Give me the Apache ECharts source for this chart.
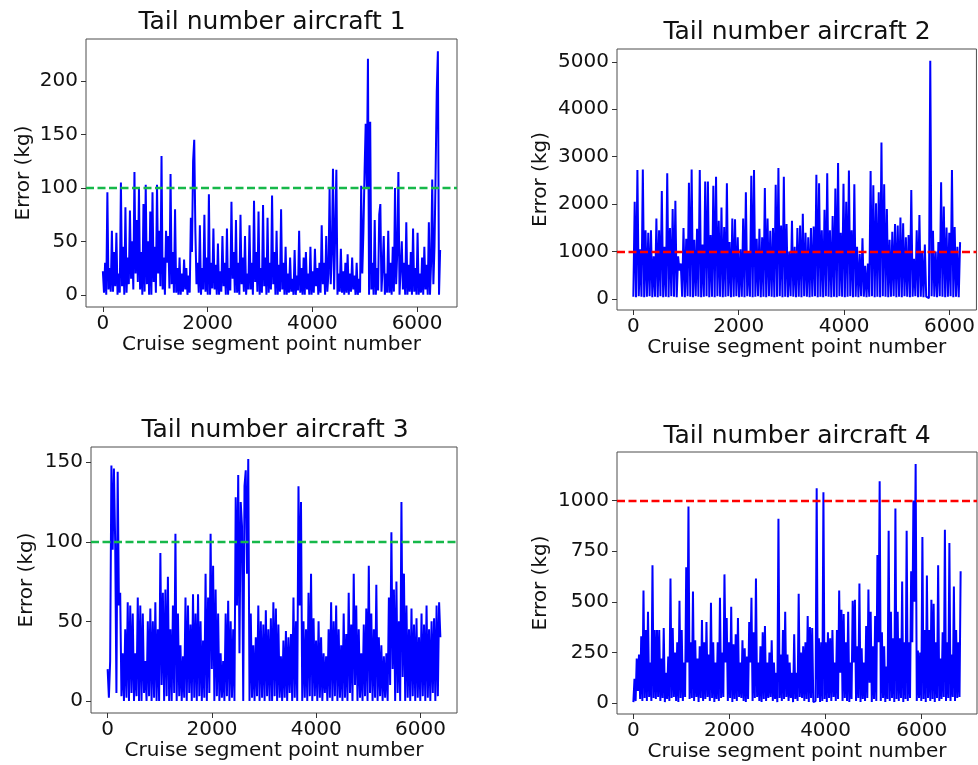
<!DOCTYPE html>
<html>
<head>
<meta charset="utf-8">
<script src="https://cdn.jsdelivr.net/npm/echarts@6/dist/echarts.min.js"></script>
<style>
  html, body { margin: 0; padding: 0; background: #ffffff; }
  #chart { width: 978px; height: 765px; }
</style>
</head>
<body>
<div id="chart"></div>
<script>
// ---- data -------------------------------------------------------------
const panelTitles = ['Tail number aircraft 1', 'Tail number aircraft 2',
                     'Tail number aircraft 3', 'Tail number aircraft 4'];
const xAxisName = 'Cruise segment point number';
const yAxisName = 'Error (kg)';

const xTickValues = [0, 2000, 4000, 6000];
const yTicks1 = [0, 50, 100, 150, 200];
const yTicks2 = [0, 1000, 2000, 3000, 4000, 5000];
const yTicks3 = [0, 50, 100, 150];
const yTicks4 = [0, 250, 500, 750, 1000];

// last cruise segment point number of each aircraft (samples are evenly spaced)
const lastPoint1 = 6440;
const lastPoint2 = 6200;
const lastPoint3 = 6380;
const lastPoint4 = 6810;

// error thresholds drawn as dashed reference lines
const threshold1 = 100;
const threshold2 = 1000;
const threshold3 = 100;
const threshold4 = 1000;

// prediction error (kg) along the cruise segment
const error1 = [22,2,30,0,96,5,25,3,60,3,
  40,8,58,0,20,2,105,8,45,0,
  82,2,35,10,79,15,50,5,115,20,
  70,12,100,5,40,0,85,3,
  103,10,50,0,78,0,96,12,
  45,2,103,20,60,8,130,5,35,0,
  60,30,55,6,113,10,40,2,80,2,
  25,0,35,0,20,3,33,5,
  25,0,18,2,72,40,125,145,60,10,
  30,2,65,0,25,5,75,3,35,0,
  94,0,30,6,62,5,28,0,48,0,
  22,3,55,8,30,0,62,0,25,4,
  87,15,40,2,70,2,30,0,75,10,
  35,3,55,0,20,5,65,5,30,0,
  88,12,40,3,78,0,25,2,84,8,
  35,0,72,2,30,5,93,10,40,0,
  60,0,28,3,80,5,30,0,45,0,
  20,2,35,3,15,0,42,0,18,4,
  60,2,25,0,35,0,40,5,
  20,0,45,0,22,2,43,8,25,0,
  30,2,65,10,30,0,55,3,
  20,100,10,40,118,5,60,117,0,20,3,
  43,2,22,0,30,2,38,0,20,3,35,5,
  18,0,30,0,15,2,102,20,60,115,
  160,100,221,0,162,5,30,0,70,0,
  25,4,75,85,3,25,55,0,20,2,
  60,2,30,0,45,3,100,10,40,115,0,25,
  50,5,30,0,68,0,28,3,40,0,62,3,
  25,0,58,0,20,2,35,0,45,5,28,0,
  68,0,30,108,10,45,115,190,228,0,
  42];

const error2 = [50,2050,40,2720,60,1050,50,2730,40,1450,50,1400,60,1450,40,900,50,1700,40,1450,
  60,2280,40,1100,50,2650,40,1500,60,1900,50,2070,40,900,600,750,50,1500,40,1270,
  60,2450,50,2730,40,1250,60,1480,50,2720,40,1150,50,2480,60,2480,40,1350,50,2390,
  40,2580,60,1650,50,1930,40,1520,50,2440,60,1200,40,1700,50,1680,60,1300,40,1050,
  50,1700,40,2250,60,1000,50,2600,40,2720,50,1270,60,1480,40,1300,50,2340,40,1700,
  60,1440,50,1500,40,2410,50,2760,60,1550,40,2580,50,1580,40,1000,60,1650,50,1100,
  40,1500,50,1550,40,1800,60,1400,50,1300,40,1500,50,1530,60,2620,40,2440,50,1450,
  40,1880,60,2650,50,1450,40,1750,50,2330,40,2870,60,1400,50,2430,40,2050,50,2710,
  60,1450,40,2420,50,1100,40,950,60,1280,50,700,40,750,50,2700,60,2400,40,2020,
  50,2250,40,3300,60,2420,50,1900,40,1250,50,1420,60,1580,40,1550,50,1720,40,1600,
  60,1300,50,1350,40,2300,50,850,60,1450,40,1770,50,1000,40,1150,50,60,20,5020,
  60,1440,50,1000,40,1200,60,2460,50,1950,40,1510,50,1400,60,2720,40,1520,50,1100,
  40,1200];

const error3 = [20,2,25,148,95,146,100,5,144,60,68,3,30,0,45,2,62,0,60,5,
  55,0,30,3,65,0,60,0,55,5,25,0,50,3,58,0,50,2,62,0,
  45,0,93,10,68,0,70,3,78,0,45,0,60,5,105,0,55,3,35,0,
  28,2,65,0,60,5,48,0,67,2,55,0,67,3,50,0,38,2,80,0,
  65,5,105,20,85,0,70,3,55,0,30,2,25,0,55,3,63,0,50,2,
  45,0,128,60,142,30,125,110,0,135,145,80,152,
  0,55,2,35,0,40,3,60,0,50,2,48,0,57,3,45,0,52,0,62,
  3,58,0,48,2,28,0,38,2,44,0,40,5,42,0,65,2,50,0,
  135,60,125,0,50,2,45,0,68,3,80,0,52,3,38,0,50,2,40,0,
  30,5,28,0,45,2,62,0,50,3,60,0,45,2,35,0,55,2,42,0,
  68,5,48,0,80,10,60,0,45,2,30,0,48,3,58,0,85,5,55,0,
  45,2,73,0,40,3,35,0,28,2,30,0,65,10,106,20,70,0,75,5,
  50,0,125,15,80,0,60,2,45,0,58,3,48,0,52,2,40,0,55,3,
  48,0,60,2,45,0,50,5,52,0,60,3,62,40];

const error4 = [5,120,10,220,60,240,20,330,10,555,25,360,10,450,30,200,10,680,25,360,
  20,360,30,360,10,220,25,370,5,150,20,230,10,615,25,370,30,250,10,300,
  5,505,25,360,10,200,30,670,200,970,20,300,25,550,10,310,30,220,5,280,
  25,410,10,300,20,400,30,240,10,495,25,300,5,200,20,300,10,520,25,250,
  30,635,200,420,10,300,25,475,5,290,20,340,10,420,30,200,25,310,10,270,
  5,230,20,400,200,520,10,350,25,615,30,200,10,280,5,350,20,380,10,200,
  25,250,30,310,10,200,20,150,5,910,25,240,10,360,20,450,30,240,10,200,
  25,150,5,340,20,150,10,540,30,250,25,280,10,300,20,430,5,375,25,370,
  5,10,10,1060,25,320,5,300,10,1040,20,300,5,350,25,320,10,360,30,200,
  10,360,20,555,150,460,10,440,25,300,10,450,5,200,20,505,200,510,10,280,
  25,590,5,270,20,200,10,380,25,560,100,450,5,280,20,430,10,730,300,1095,
  10,350,25,280,5,180,20,850,10,450,25,320,5,960,20,450,10,320,25,600,
  5,300,20,850,10,300,25,650,300,1000,500,1180,10,260,25,250,10,820,20,360,
  5,630,25,360,10,510,20,490,5,300,25,680,10,220,20,350,30,855,10,300,
  25,790,10,240,30,575,10,360,25,300,30,650];

// ---- layout & styling ---------------------------------------------------
const FONT = '"DejaVu Sans", sans-serif';
const TEXT_COLOR = '#111111';
const LINE_COLOR = '#0000ff';

const panels = [
  { values: error1, last: lastPoint1, yTicks: yTicks1, threshold: threshold1, thresholdColor: '#16b84a',
    grid: { left: 86, top: 39, width: 371, height: 268 }, title: [272, 22], xGap: 27, yGap: 52 },
  { values: error2, last: lastPoint2, yTicks: yTicks2, threshold: threshold2, thresholdColor: '#ff0000',
    grid: { left: 617, top: 49, width: 360, height: 261 }, title: [797, 32], xGap: 26, yGap: 66 },
  { values: error3, last: lastPoint3, yTicks: yTicks3, threshold: threshold3, thresholdColor: '#16b84a',
    grid: { left: 91, top: 447, width: 366, height: 266 }, title: [275, 430], xGap: 26, yGap: 54 },
  { values: error4, last: lastPoint4, yTicks: yTicks4, threshold: threshold4, thresholdColor: '#ff0000',
    grid: { left: 617, top: 452, width: 360, height: 262 }, title: [797, 436], xGap: 26, yGap: 66 }
];

// evenly spaced point numbers from 0 to the last point
function toSeriesData(values, last) {
  const step = last / (values.length - 1);
  return values.map((v, i) => [i * step, v]);
}

// 5 % padding around the data extent on both axes
function padded(lo, hi) {
  const pad = (hi - lo) * 0.05;
  return [lo - pad, hi + pad];
}

const plainNumber = (v) => String(Math.round(v));

const option = {
  animation: false,
  backgroundColor: '#ffffff',
  grid: [], xAxis: [], yAxis: [], series: [], graphic: []
};

panels.forEach((p, k) => {
  option.grid.push(Object.assign({
    show: true, borderColor: '#4d4d4d', borderWidth: 1, backgroundColor: 'transparent',
    containLabel: false
  }, p.grid));

  const xr = padded(0, p.last);
  const yr = padded(Math.min(...p.values), Math.max(...p.values));

  option.xAxis.push({
    type: 'value', gridIndex: k, min: xr[0], max: xr[1],
    name: xAxisName, nameLocation: 'middle', nameGap: p.xGap,
    nameTextStyle: { fontFamily: FONT, fontSize: 20, color: TEXT_COLOR },
    axisLine: { show: false, onZero: false },
    splitLine: { show: false },
    axisTick: { show: true, inside: false, length: 5, customValues: xTickValues,
                lineStyle: { color: '#333333', width: 1 } },
    axisLabel: { show: true, customValues: xTickValues, margin: 7, formatter: plainNumber,
                 fontFamily: FONT, fontSize: 20, color: TEXT_COLOR }
  });

  option.yAxis.push({
    type: 'value', gridIndex: k, min: yr[0], max: yr[1],
    name: yAxisName, nameLocation: 'middle', nameGap: p.yGap, nameRotate: 90,
    nameTextStyle: { fontFamily: FONT, fontSize: 20, color: TEXT_COLOR },
    axisLine: { show: false, onZero: false },
    splitLine: { show: false },
    axisTick: { show: true, inside: false, length: 5, customValues: p.yTicks,
                lineStyle: { color: '#333333', width: 1 } },
    axisLabel: { show: true, customValues: p.yTicks, margin: 8, formatter: plainNumber,
                 fontFamily: FONT, fontSize: 20, color: TEXT_COLOR }
  });

  option.series.push({
    type: 'line', xAxisIndex: k, yAxisIndex: k,
    data: toSeriesData(p.values, p.last),
    showSymbol: false, symbol: 'none',
    lineStyle: { color: LINE_COLOR, width: 2 },
    emphasis: { disabled: true },
    markLine: {
      silent: true, symbol: 'none', label: { show: false },
      lineStyle: { color: p.thresholdColor, type: [8, 3.5], width: 2.4 },
      data: [{ yAxis: p.threshold }]
    }
  });

  option.graphic.push({
    type: 'text', x: p.title[0], y: p.title[1],
    style: { text: panelTitles[k], fontFamily: FONT, fontSize: 25, fill: TEXT_COLOR,
             align: 'center', verticalAlign: 'middle' }
  });
});

const chart = echarts.init(document.getElementById('chart'), null, { renderer: 'canvas' });
chart.setOption(option);
</script>
</body>
</html>
